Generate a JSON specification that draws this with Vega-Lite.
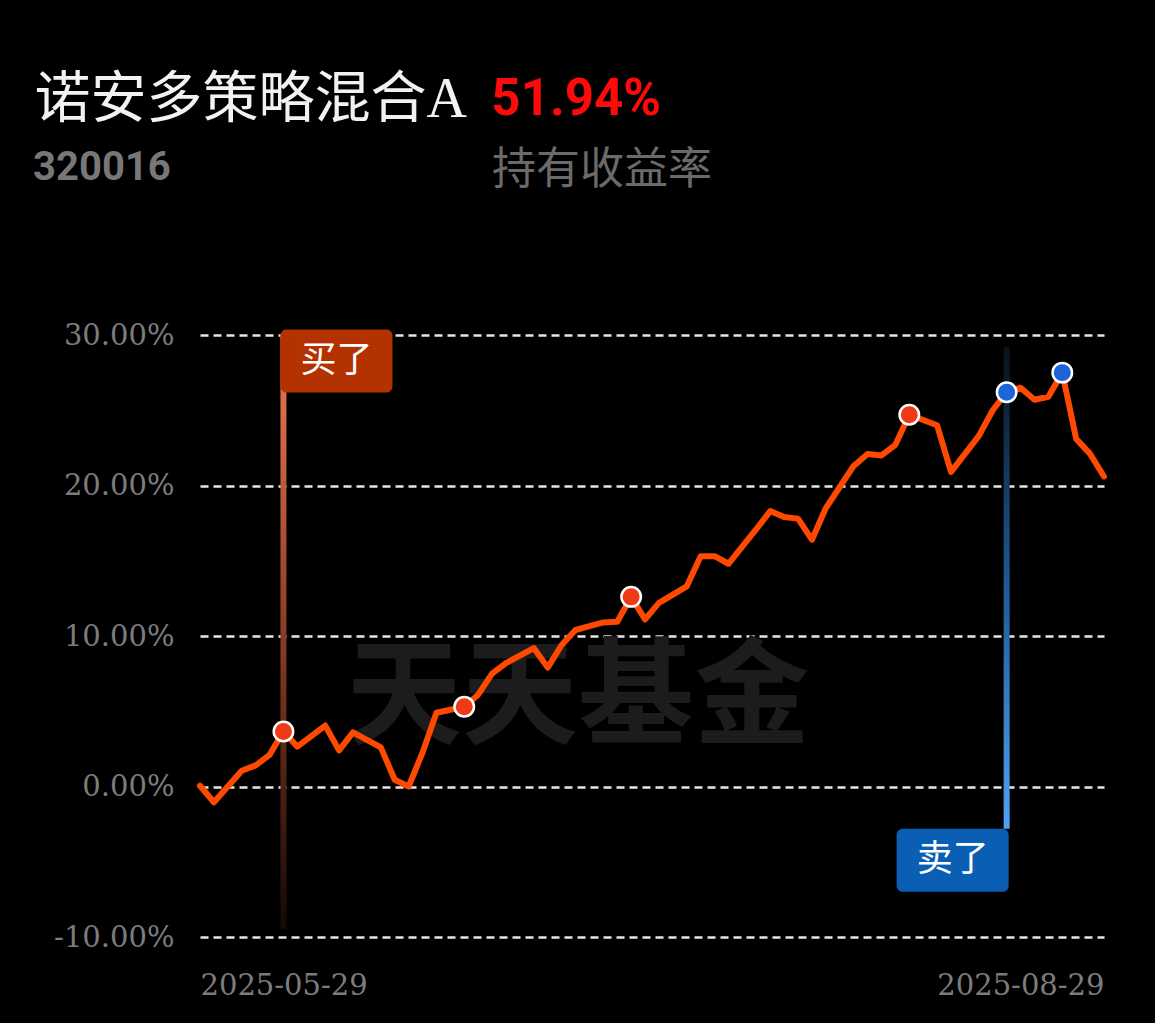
{
  "$schema": "https://vega.github.io/schema/vega-lite/v6.json",
  "width": 904,
  "height": 602,
  "autosize": "none",
  "padding": {"left": 200, "top": 335, "right": 51, "bottom": 86},
  "background": "#000000",
  "config": {"view": {"stroke": null}},
  "datasets": {
    "nav": [
      {"i": 0, "v": 0.05}, {"i": 1, "v": -1.05}, {"i": 2, "v": 0.0}, {"i": 3, "v": 1.05},
      {"i": 4, "v": 1.4}, {"i": 5, "v": 2.1}, {"i": 6, "v": 3.65, "op": "buy"}, {"i": 7, "v": 2.65},
      {"i": 8, "v": 3.35}, {"i": 9, "v": 4.05}, {"i": 10, "v": 2.4}, {"i": 11, "v": 3.6},
      {"i": 12, "v": 3.1}, {"i": 13, "v": 2.6}, {"i": 14, "v": 0.45}, {"i": 15, "v": 0.0},
      {"i": 16, "v": 2.25}, {"i": 17, "v": 4.9}, {"i": 18, "v": 5.1}, {"i": 19, "v": 5.3, "op": "buy"},
      {"i": 20, "v": 6.1}, {"i": 21, "v": 7.5}, {"i": 22, "v": 8.2}, {"i": 23, "v": 8.7},
      {"i": 24, "v": 9.2}, {"i": 25, "v": 7.9}, {"i": 26, "v": 9.4}, {"i": 27, "v": 10.4},
      {"i": 28, "v": 10.65}, {"i": 29, "v": 10.9}, {"i": 30, "v": 10.95}, {"i": 31, "v": 12.6, "op": "buy"},
      {"i": 32, "v": 11.1}, {"i": 33, "v": 12.2}, {"i": 34, "v": 12.75}, {"i": 35, "v": 13.3},
      {"i": 36, "v": 15.3}, {"i": 37, "v": 15.3}, {"i": 38, "v": 14.8}, {"i": 39, "v": 15.95},
      {"i": 40, "v": 17.1}, {"i": 41, "v": 18.3}, {"i": 42, "v": 17.9}, {"i": 43, "v": 17.8},
      {"i": 44, "v": 16.4}, {"i": 45, "v": 18.5}, {"i": 46, "v": 19.9}, {"i": 47, "v": 21.3},
      {"i": 48, "v": 22.1}, {"i": 49, "v": 22.0}, {"i": 50, "v": 22.7}, {"i": 51, "v": 24.7, "op": "buy"},
      {"i": 52, "v": 24.35}, {"i": 53, "v": 24.0}, {"i": 54, "v": 20.9}, {"i": 55, "v": 22.1},
      {"i": 56, "v": 23.3}, {"i": 57, "v": 25.0}, {"i": 58, "v": 26.2, "op": "sell"}, {"i": 59, "v": 26.5},
      {"i": 60, "v": 25.7}, {"i": 61, "v": 25.9}, {"i": 62, "v": 27.5, "op": "sell"}, {"i": 63, "v": 23.1},
      {"i": 64, "v": 22.1}, {"i": 65, "v": 20.6}
    ],
    "flags": [
      {"i": 6, "side": "buy", "label": "买了"},
      {"i": 58, "side": "sell", "label": "卖了"}
    ],
    "head": [
      {"name": "诺安多策略混合A", "code": "320016", "ret": "51.94%", "caption": "持有收益率", "mark": "天天基金"}
    ]
  },
  "layer": [
    {
      "data": {"name": "nav"},
      "mark": {"type": "line", "color": "#ff4800", "strokeWidth": 6, "opacity": 0},
      "encoding": {
        "x": {"field": "i", "type": "quantitative", "scale": {"domain": [0, 65], "nice": false, "zero": false, "padding": 0},
          "axis": {"values": [0, 65], "labelExpr": "datum.value == 0 ? '2025-05-29' : '2025-08-29'", "labelFlush": true,
            "grid": false, "domain": false, "ticks": false, "title": null,
            "labelFont": "DejaVu Serif", "labelFontSize": 29, "labelColor": "#7c7c7c", "labelPadding": 34}},
        "y": {"field": "v", "type": "quantitative", "scale": {"domain": [-10, 30], "nice": false, "zero": false},
          "axis": {"values": [-10, 0, 10, 20, 30], "labelExpr": "(datum.value < 0 ? '-' : '') + format(abs(datum.value), '.2f') + '%'",
            "grid": true, "gridColor": "#e6e6e6", "gridDash": [8, 5], "gridWidth": 2.5, "domain": false, "ticks": false, "title": null,
            "labelFont": "DejaVu Serif", "labelFontSize": 29, "labelColor": "#7c7c7c", "labelPadding": 26}}
      }
    },
    {
      "data": {"name": "head"},
      "mark": {"type": "text", "font": "Noto Sans CJK SC", "fontWeight": "bold", "fontSize": 116, "color": "#1c1c1c", "align": "center", "baseline": "middle"},
      "encoding": {
        "text": {"field": "mark"},
        "x": {"datum": 27.18, "type": "quantitative"},
        "y": {"datum": 5.75, "type": "quantitative"}
      }
    },
    {
      "data": {"name": "flags"},
      "transform": [{"filter": "datum.side == 'buy'"}],
      "mark": {"type": "bar", "orient": "vertical", "width": 6,
        "color": {"gradient": "linear", "x1": 0, "y1": 0, "x2": 0, "y2": 1,
          "stops": [{"offset": 0, "color": "#f47a50"}, {"offset": 0.5, "color": "#8a3c24"}, {"offset": 1, "color": "#140805"}]}},
      "encoding": {
        "x": {"field": "i", "type": "quantitative"},
        "y": {"datum": 30, "type": "quantitative"},
        "y2": {"datum": -9.5}
      }
    },
    {
      "data": {"name": "flags"},
      "transform": [{"filter": "datum.side == 'sell'"}],
      "mark": {"type": "bar", "orient": "vertical", "width": 6,
        "color": {"gradient": "linear", "x1": 0, "y1": 0, "x2": 0, "y2": 1,
          "stops": [{"offset": 0, "color": "#08121c"}, {"offset": 0.5, "color": "#1f5a94"}, {"offset": 1, "color": "#4da3f5"}]}},
      "encoding": {
        "x": {"field": "i", "type": "quantitative"},
        "y": {"datum": 29.2, "type": "quantitative"},
        "y2": {"datum": -2.8}
      }
    },
    {
      "data": {"name": "nav"},
      "mark": {"type": "line", "color": "#ff4800", "strokeWidth": 6, "strokeJoin": "round", "strokeCap": "round"},
      "encoding": {
        "x": {"field": "i", "type": "quantitative"},
        "y": {"field": "v", "type": "quantitative"}
      }
    },
    {
      "data": {"name": "nav"},
      "transform": [{"filter": "datum.op != null"}],
      "mark": {"type": "circle", "size": 380, "stroke": "#ffffff", "strokeWidth": 2.5, "opacity": 1},
      "encoding": {
        "x": {"field": "i", "type": "quantitative"},
        "y": {"field": "v", "type": "quantitative"},
        "fill": {"field": "op", "type": "nominal", "scale": {"domain": ["buy", "sell"], "range": ["#ee3a16", "#1c64d8"]}, "legend": null}
      }
    },
    {
      "data": {"name": "flags"},
      "transform": [{"filter": "datum.side == 'buy'"}],
      "mark": {"type": "rect", "width": 112, "height": 63, "cornerRadius": 6, "color": "#b33200", "xOffset": 53, "yOffset": 26},
      "encoding": {
        "x": {"field": "i", "type": "quantitative"},
        "y": {"datum": 30, "type": "quantitative"}
      }
    },
    {
      "data": {"name": "flags"},
      "transform": [{"filter": "datum.side == 'sell'"}],
      "mark": {"type": "rect", "width": 112, "height": 63, "cornerRadius": 6, "color": "#0a5fb4", "xOffset": -54, "yOffset": 31.5},
      "encoding": {
        "x": {"field": "i", "type": "quantitative"},
        "y": {"datum": -2.8, "type": "quantitative"}
      }
    },
    {
      "data": {"name": "flags"},
      "transform": [{"filter": "datum.side == 'buy'"}],
      "mark": {"type": "text", "font": "Noto Sans CJK SC", "fontSize": 36, "color": "#ffffff", "align": "center", "baseline": "middle", "dx": 53, "dy": 26},
      "encoding": {
        "text": {"field": "label"},
        "x": {"field": "i", "type": "quantitative"},
        "y": {"datum": 30, "type": "quantitative"}
      }
    },
    {
      "data": {"name": "flags"},
      "transform": [{"filter": "datum.side == 'sell'"}],
      "mark": {"type": "text", "font": "Noto Sans CJK SC", "fontSize": 36, "color": "#ffffff", "align": "center", "baseline": "middle", "dx": -54, "dy": 31.5},
      "encoding": {
        "text": {"field": "label"},
        "x": {"field": "i", "type": "quantitative"},
        "y": {"datum": -2.8, "type": "quantitative"}
      }
    },
    {
      "data": {"name": "head"},
      "mark": {"type": "text", "font": "Liberation Serif, Noto Sans CJK SC", "fontSize": 56, "color": "#f2f2f2", "align": "left", "baseline": "middle"},
      "encoding": {
        "text": {"field": "name"},
        "x": {"datum": -11.9, "type": "quantitative"},
        "y": {"datum": 45.6, "type": "quantitative"}
      }
    },
    {
      "data": {"name": "head"},
      "mark": {"type": "text", "font": "Roboto", "fontWeight": "bold", "fontSize": 51, "color": "#ff0a0a", "align": "left", "baseline": "middle"},
      "encoding": {
        "text": {"field": "ret"},
        "x": {"datum": 20.95, "type": "quantitative"},
        "y": {"datum": 45.6, "type": "quantitative"}
      }
    },
    {
      "data": {"name": "head"},
      "mark": {"type": "text", "font": "Roboto", "fontWeight": "bold", "fontSize": 40, "color": "#777777", "align": "left", "baseline": "middle"},
      "encoding": {
        "text": {"field": "code"},
        "x": {"datum": -12.0, "type": "quantitative"},
        "y": {"datum": 41.1, "type": "quantitative"}
      }
    },
    {
      "data": {"name": "head"},
      "mark": {"type": "text", "font": "Noto Sans CJK SC", "fontSize": 44, "color": "#6a6a6a", "align": "left", "baseline": "middle"},
      "encoding": {
        "text": {"field": "caption"},
        "x": {"datum": 21.0, "type": "quantitative"},
        "y": {"datum": 40.93, "type": "quantitative"}
      }
    }
  ]
}
